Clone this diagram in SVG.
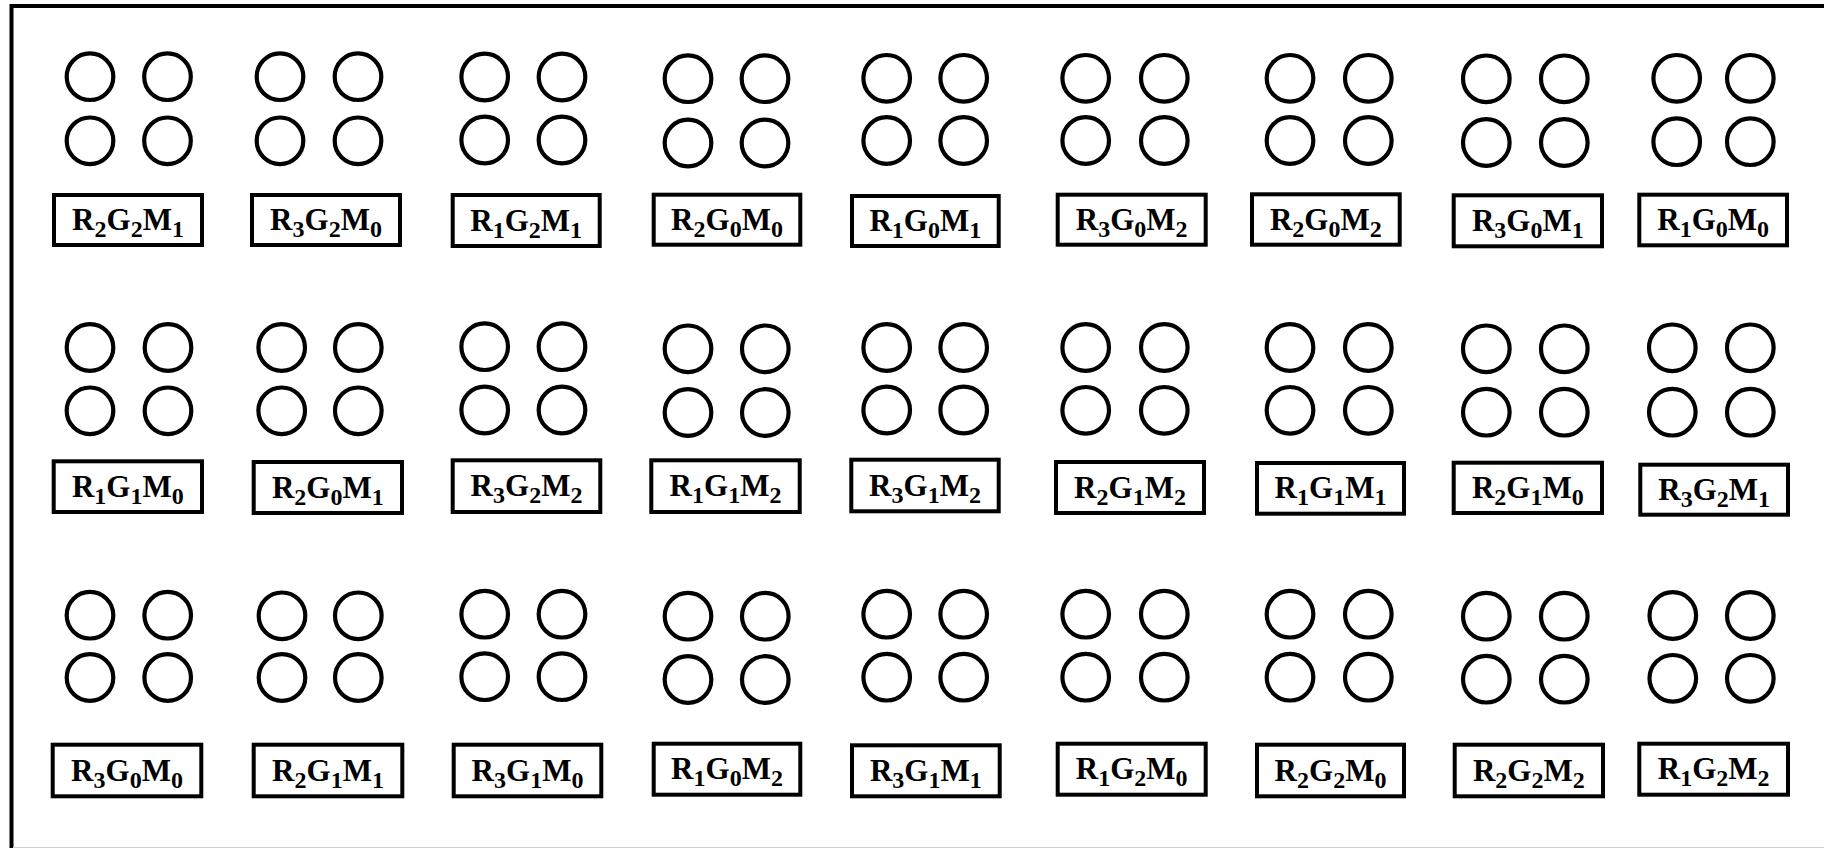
<svg xmlns="http://www.w3.org/2000/svg" width="1824" height="848" viewBox="0 0 1824 848">
<style>
.c{fill:none;stroke:#000;stroke-width:4.2}
.b{fill:#fff;stroke:#000;stroke-width:4}
.t{font-family:"Liberation Serif","Times New Roman",serif;font-weight:bold;font-size:31px;fill:#000;text-anchor:middle}
.s{font-size:24px}
</style>
<rect x="0" y="0" width="1824" height="848" fill="#fff"/>
<rect x="11.5" y="6" width="1840" height="900" fill="none" stroke="#000" stroke-width="4"/>
<line x1="13" y1="847.5" x2="1824" y2="847.5" stroke="#d0d0d0" stroke-width="1"/>
<g id="connectors"/>

<!-- Row 1 -->
<g id="n1"><circle class="c" cx="90" cy="76.7" r="23.3"/><circle class="c" cx="167.5" cy="76.7" r="23.3"/><circle class="c" cx="90" cy="140.8" r="23.3"/><circle class="c" cx="167.5" cy="140.8" r="23.3"/><rect class="b" x="54" y="195" width="148" height="50"/><text class="t" x="128" y="230">R<tspan class="s" dy="7">2</tspan><tspan dy="-7">G</tspan><tspan class="s" dy="7">2</tspan><tspan dy="-7">M</tspan><tspan class="s" dy="7">1</tspan></text></g>
<g id="n2"><circle class="c" cx="280" cy="76.7" r="23.3"/><circle class="c" cx="358" cy="76.7" r="23.3"/><circle class="c" cx="280" cy="140.8" r="23.3"/><circle class="c" cx="358" cy="140.8" r="23.3"/><rect class="b" x="252" y="195" width="148" height="50"/><text class="t" x="326" y="230">R<tspan class="s" dy="7">3</tspan><tspan dy="-7">G</tspan><tspan class="s" dy="7">2</tspan><tspan dy="-7">M</tspan><tspan class="s" dy="7">0</tspan></text></g>
<g id="n3"><circle class="c" cx="484.7" cy="77" r="23.3"/><circle class="c" cx="562" cy="77" r="23.3"/><circle class="c" cx="484.7" cy="140" r="23.3"/><circle class="c" cx="562" cy="140" r="23.3"/><rect class="b" x="452.7" y="195" width="147" height="51"/><text class="t" x="526.2" y="230.5">R<tspan class="s" dy="7">1</tspan><tspan dy="-7">G</tspan><tspan class="s" dy="7">2</tspan><tspan dy="-7">M</tspan><tspan class="s" dy="7">1</tspan></text></g>
<g id="n4"><circle class="c" cx="688" cy="78.7" r="23.3"/><circle class="c" cx="765" cy="78.7" r="23.3"/><circle class="c" cx="688" cy="143" r="23.3"/><circle class="c" cx="765" cy="143" r="23.3"/><rect class="b" x="653.7" y="194.7" width="146.6" height="50"/><text class="t" x="727" y="229.7">R<tspan class="s" dy="7">2</tspan><tspan dy="-7">G</tspan><tspan class="s" dy="7">0</tspan><tspan dy="-7">M</tspan><tspan class="s" dy="7">0</tspan></text></g>
<g id="n5"><circle class="c" cx="886.7" cy="78.3" r="23.3"/><circle class="c" cx="963.7" cy="78.3" r="23.3"/><circle class="c" cx="886.7" cy="140.5" r="23.3"/><circle class="c" cx="963.7" cy="140.5" r="23.3"/><rect class="b" x="852" y="196" width="146.7" height="50"/><text class="t" x="925.3" y="231">R<tspan class="s" dy="7">1</tspan><tspan dy="-7">G</tspan><tspan class="s" dy="7">0</tspan><tspan dy="-7">M</tspan><tspan class="s" dy="7">1</tspan></text></g>
<g id="n6"><circle class="c" cx="1085.7" cy="78.3" r="23.3"/><circle class="c" cx="1164.3" cy="78.3" r="23.3"/><circle class="c" cx="1085.7" cy="140.5" r="23.3"/><circle class="c" cx="1164.3" cy="140.5" r="23.3"/><rect class="b" x="1057.7" y="194.7" width="148" height="50"/><text class="t" x="1131.7" y="229.7">R<tspan class="s" dy="7">3</tspan><tspan dy="-7">G</tspan><tspan class="s" dy="7">0</tspan><tspan dy="-7">M</tspan><tspan class="s" dy="7">2</tspan></text></g>
<g id="n7"><circle class="c" cx="1290" cy="78.3" r="23.3"/><circle class="c" cx="1368.3" cy="78.3" r="23.3"/><circle class="c" cx="1290" cy="140.5" r="23.3"/><circle class="c" cx="1368.3" cy="140.5" r="23.3"/><rect class="b" x="1252" y="194.3" width="147.7" height="50.4"/><text class="t" x="1325.8" y="229.5">R<tspan class="s" dy="7">2</tspan><tspan dy="-7">G</tspan><tspan class="s" dy="7">0</tspan><tspan dy="-7">M</tspan><tspan class="s" dy="7">2</tspan></text></g>
<g id="n8"><circle class="c" cx="1486.3" cy="78.8" r="23.3"/><circle class="c" cx="1564.3" cy="78.8" r="23.3"/><circle class="c" cx="1486.3" cy="142.5" r="23.3"/><circle class="c" cx="1564.3" cy="142.5" r="23.3"/><rect class="b" x="1453.7" y="195.3" width="148.3" height="51"/><text class="t" x="1527.8" y="230.8">R<tspan class="s" dy="7">3</tspan><tspan dy="-7">G</tspan><tspan class="s" dy="7">0</tspan><tspan dy="-7">M</tspan><tspan class="s" dy="7">1</tspan></text></g>
<g id="n9"><circle class="c" cx="1676.7" cy="78.3" r="23.3"/><circle class="c" cx="1750.3" cy="78.3" r="23.3"/><circle class="c" cx="1676.7" cy="141.7" r="23.3"/><circle class="c" cx="1750.3" cy="141.7" r="23.3"/><rect class="b" x="1639.3" y="194.7" width="147.7" height="50.6"/><text class="t" x="1713.2" y="230">R<tspan class="s" dy="7">1</tspan><tspan dy="-7">G</tspan><tspan class="s" dy="7">0</tspan><tspan dy="-7">M</tspan><tspan class="s" dy="7">0</tspan></text></g>

<!-- Row 2 -->
<g id="n10"><circle class="c" cx="90" cy="347.5" r="23.3"/><circle class="c" cx="168" cy="347.5" r="23.3"/><circle class="c" cx="90" cy="410.8" r="23.3"/><circle class="c" cx="168" cy="410.8" r="23.3"/><rect class="b" x="53.7" y="461.3" width="148.3" height="50.7"/><text class="t" x="127.8" y="496.7">R<tspan class="s" dy="7">1</tspan><tspan dy="-7">G</tspan><tspan class="s" dy="7">1</tspan><tspan dy="-7">M</tspan><tspan class="s" dy="7">0</tspan></text></g>
<g id="n11"><circle class="c" cx="281.7" cy="347.5" r="23.3"/><circle class="c" cx="358.3" cy="347.5" r="23.3"/><circle class="c" cx="281.7" cy="410.8" r="23.3"/><circle class="c" cx="358.3" cy="410.8" r="23.3"/><rect class="b" x="253.7" y="462" width="148.3" height="51"/><text class="t" x="327.8" y="497.5">R<tspan class="s" dy="7">2</tspan><tspan dy="-7">G</tspan><tspan class="s" dy="7">0</tspan><tspan dy="-7">M</tspan><tspan class="s" dy="7">1</tspan></text></g>
<g id="n12"><circle class="c" cx="484.7" cy="346.7" r="23.3"/><circle class="c" cx="562" cy="346.7" r="23.3"/><circle class="c" cx="484.7" cy="410" r="23.3"/><circle class="c" cx="562" cy="410" r="23.3"/><rect class="b" x="452.7" y="460.3" width="147.6" height="51.7"/><text class="t" x="526.5" y="496.2">R<tspan class="s" dy="7">3</tspan><tspan dy="-7">G</tspan><tspan class="s" dy="7">2</tspan><tspan dy="-7">M</tspan><tspan class="s" dy="7">2</tspan></text></g>
<g id="n13"><circle class="c" cx="688" cy="348.8" r="23.3"/><circle class="c" cx="765.3" cy="348.8" r="23.3"/><circle class="c" cx="688" cy="412.5" r="23.3"/><circle class="c" cx="765.3" cy="412.5" r="23.3"/><rect class="b" x="651.3" y="460.3" width="148.4" height="51.7"/><text class="t" x="725.5" y="496.2">R<tspan class="s" dy="7">1</tspan><tspan dy="-7">G</tspan><tspan class="s" dy="7">1</tspan><tspan dy="-7">M</tspan><tspan class="s" dy="7">2</tspan></text></g>
<g id="n14"><circle class="c" cx="886.7" cy="347.5" r="23.3"/><circle class="c" cx="963.7" cy="347.5" r="23.3"/><circle class="c" cx="886.7" cy="410" r="23.3"/><circle class="c" cx="963.7" cy="410" r="23.3"/><rect class="b" x="851.3" y="459.7" width="147.4" height="51.6"/><text class="t" x="925" y="495.5">R<tspan class="s" dy="7">3</tspan><tspan dy="-7">G</tspan><tspan class="s" dy="7">1</tspan><tspan dy="-7">M</tspan><tspan class="s" dy="7">2</tspan></text></g>
<g id="n15"><circle class="c" cx="1085.7" cy="347.5" r="23.3"/><circle class="c" cx="1164.3" cy="347.5" r="23.3"/><circle class="c" cx="1085.7" cy="410.3" r="23.3"/><circle class="c" cx="1164.3" cy="410.3" r="23.3"/><rect class="b" x="1056" y="462" width="148" height="51"/><text class="t" x="1130" y="497.5">R<tspan class="s" dy="7">2</tspan><tspan dy="-7">G</tspan><tspan class="s" dy="7">1</tspan><tspan dy="-7">M</tspan><tspan class="s" dy="7">2</tspan></text></g>
<g id="n16"><circle class="c" cx="1290" cy="347.5" r="23.3"/><circle class="c" cx="1368.3" cy="347.5" r="23.3"/><circle class="c" cx="1290" cy="410.3" r="23.3"/><circle class="c" cx="1368.3" cy="410.3" r="23.3"/><rect class="b" x="1257" y="463" width="147" height="50.7"/><text class="t" x="1330.5" y="498.4">R<tspan class="s" dy="7">1</tspan><tspan dy="-7">G</tspan><tspan class="s" dy="7">1</tspan><tspan dy="-7">M</tspan><tspan class="s" dy="7">1</tspan></text></g>
<g id="n17"><circle class="c" cx="1486.3" cy="348.8" r="23.3"/><circle class="c" cx="1564.3" cy="348.8" r="23.3"/><circle class="c" cx="1486.3" cy="412.2" r="23.3"/><circle class="c" cx="1564.3" cy="412.2" r="23.3"/><rect class="b" x="1453.7" y="462.7" width="148.3" height="50.3"/><text class="t" x="1527.8" y="497.9">R<tspan class="s" dy="7">2</tspan><tspan dy="-7">G</tspan><tspan class="s" dy="7">1</tspan><tspan dy="-7">M</tspan><tspan class="s" dy="7">0</tspan></text></g>
<g id="n18"><circle class="c" cx="1672.3" cy="347.8" r="23.3"/><circle class="c" cx="1750.3" cy="347.8" r="23.3"/><circle class="c" cx="1672.3" cy="412.2" r="23.3"/><circle class="c" cx="1750.3" cy="412.2" r="23.3"/><rect class="b" x="1640.3" y="464.7" width="147.7" height="50"/><text class="t" x="1714.2" y="499.7">R<tspan class="s" dy="7">3</tspan><tspan dy="-7">G</tspan><tspan class="s" dy="7">2</tspan><tspan dy="-7">M</tspan><tspan class="s" dy="7">1</tspan></text></g>

<!-- Row 3 -->
<g id="n19"><circle class="c" cx="90" cy="615.2" r="23.3"/><circle class="c" cx="167.7" cy="615.2" r="23.3"/><circle class="c" cx="90" cy="677.5" r="23.3"/><circle class="c" cx="167.7" cy="677.5" r="23.3"/><rect class="b" x="52.7" y="744.7" width="148.6" height="51.6"/><text class="t" x="127" y="780.5">R<tspan class="s" dy="7">3</tspan><tspan dy="-7">G</tspan><tspan class="s" dy="7">0</tspan><tspan dy="-7">M</tspan><tspan class="s" dy="7">0</tspan></text></g>
<g id="n20"><circle class="c" cx="282" cy="615.8" r="23.3"/><circle class="c" cx="358.3" cy="615.8" r="23.3"/><circle class="c" cx="282" cy="677.5" r="23.3"/><circle class="c" cx="358.3" cy="677.5" r="23.3"/><rect class="b" x="253.7" y="744.7" width="148.6" height="51.6"/><text class="t" x="328" y="780.5">R<tspan class="s" dy="7">2</tspan><tspan dy="-7">G</tspan><tspan class="s" dy="7">1</tspan><tspan dy="-7">M</tspan><tspan class="s" dy="7">1</tspan></text></g>
<g id="n21"><circle class="c" cx="484.7" cy="614.2" r="23.3"/><circle class="c" cx="562" cy="614.2" r="23.3"/><circle class="c" cx="484.7" cy="676.7" r="23.3"/><circle class="c" cx="562" cy="676.7" r="23.3"/><rect class="b" x="453.7" y="744.7" width="147.6" height="51.6"/><text class="t" x="527.5" y="780.5">R<tspan class="s" dy="7">3</tspan><tspan dy="-7">G</tspan><tspan class="s" dy="7">1</tspan><tspan dy="-7">M</tspan><tspan class="s" dy="7">0</tspan></text></g>
<g id="n22"><circle class="c" cx="688" cy="616.2" r="23.3"/><circle class="c" cx="765.3" cy="616.2" r="23.3"/><circle class="c" cx="688" cy="679.5" r="23.3"/><circle class="c" cx="765.3" cy="679.5" r="23.3"/><rect class="b" x="653.7" y="743.7" width="146.6" height="51"/><text class="t" x="727" y="779.2">R<tspan class="s" dy="7">1</tspan><tspan dy="-7">G</tspan><tspan class="s" dy="7">0</tspan><tspan dy="-7">M</tspan><tspan class="s" dy="7">2</tspan></text></g>
<g id="n23"><circle class="c" cx="886.7" cy="614.2" r="23.3"/><circle class="c" cx="963.7" cy="614.2" r="23.3"/><circle class="c" cx="886.7" cy="677.2" r="23.3"/><circle class="c" cx="963.7" cy="677.2" r="23.3"/><rect class="b" x="852" y="745.3" width="147.7" height="51"/><text class="t" x="925.8" y="780.8">R<tspan class="s" dy="7">3</tspan><tspan dy="-7">G</tspan><tspan class="s" dy="7">1</tspan><tspan dy="-7">M</tspan><tspan class="s" dy="7">1</tspan></text></g>
<g id="n24"><circle class="c" cx="1085.7" cy="614.2" r="23.3"/><circle class="c" cx="1164.3" cy="614.2" r="23.3"/><circle class="c" cx="1085.7" cy="677.2" r="23.3"/><circle class="c" cx="1164.3" cy="677.2" r="23.3"/><rect class="b" x="1057.7" y="743.7" width="148" height="51"/><text class="t" x="1131.7" y="779.2">R<tspan class="s" dy="7">1</tspan><tspan dy="-7">G</tspan><tspan class="s" dy="7">2</tspan><tspan dy="-7">M</tspan><tspan class="s" dy="7">0</tspan></text></g>
<g id="n25"><circle class="c" cx="1290" cy="614.2" r="23.3"/><circle class="c" cx="1368.3" cy="614.2" r="23.3"/><circle class="c" cx="1290" cy="677.2" r="23.3"/><circle class="c" cx="1368.3" cy="677.2" r="23.3"/><rect class="b" x="1257" y="744.7" width="147" height="51.6"/><text class="t" x="1330.5" y="780.5">R<tspan class="s" dy="7">2</tspan><tspan dy="-7">G</tspan><tspan class="s" dy="7">2</tspan><tspan dy="-7">M</tspan><tspan class="s" dy="7">0</tspan></text></g>
<g id="n26"><circle class="c" cx="1486.3" cy="616.2" r="23.3"/><circle class="c" cx="1564.3" cy="616.2" r="23.3"/><circle class="c" cx="1486.3" cy="679.2" r="23.3"/><circle class="c" cx="1564.3" cy="679.2" r="23.3"/><rect class="b" x="1454.7" y="744.7" width="148.3" height="51.6"/><text class="t" x="1528.8" y="780.5">R<tspan class="s" dy="7">2</tspan><tspan dy="-7">G</tspan><tspan class="s" dy="7">2</tspan><tspan dy="-7">M</tspan><tspan class="s" dy="7">2</tspan></text></g>
<g id="n27"><circle class="c" cx="1672.8" cy="615.5" r="23.3"/><circle class="c" cx="1750.3" cy="615.5" r="23.3"/><circle class="c" cx="1672.8" cy="678.3" r="23.3"/><circle class="c" cx="1750.3" cy="678.3" r="23.3"/><rect class="b" x="1639.3" y="743.7" width="148.7" height="51"/><text class="t" x="1713.7" y="779.2">R<tspan class="s" dy="7">1</tspan><tspan dy="-7">G</tspan><tspan class="s" dy="7">2</tspan><tspan dy="-7">M</tspan><tspan class="s" dy="7">2</tspan></text></g>
</svg>
